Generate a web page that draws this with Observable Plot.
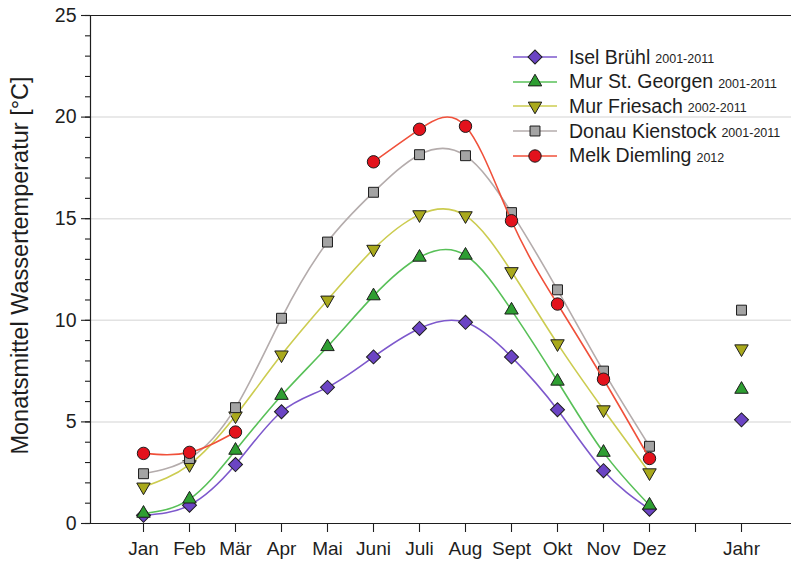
<!DOCTYPE html>
<html>
<head>
<meta charset="utf-8">
<script src="https://cdn.jsdelivr.net/npm/d3@7"></script>
<script src="https://cdn.jsdelivr.net/npm/@observablehq/plot@0.6"></script>
<style>
  body { margin: 0; background: #fff; font-family: "Liberation Sans", Arial, sans-serif; }
  #chart { position: relative; width: 791px; height: 567px; overflow: hidden; }
  #chart > svg { position: absolute; left: 0; top: 0; }
  #legend { position: absolute; left: 511px; top: 45px; }
  .row { display: flex; align-items: center; height: 24.6px; font-size: 19.5px; color: #1e1e1e; white-space: nowrap; }
  .row svg { margin-right: 10px; flex: none; }
  .row .period { font-size: 12.5px; margin-left: 5px; position: relative; top: 2px; }
</style>
</head>
<body>
<div id="chart"><div id="legend"></div></div>
<script>
// Monthly mean water temperatures (°C) at five gauging stations
const months = ["Jan", "Feb", "Mär", "Apr", "Mai", "Juni", "Juli", "Aug", "Sept", "Okt", "Nov", "Dez"];
const gapSlot = "";
const annualLabel = "Jahr";

const seriesNames = ["Isel Brühl", "Mur St. Georgen", "Mur Friesach", "Donau Kienstock", "Melk Diemling"];
const seriesPeriods = ["2001-2011", "2001-2011", "2002-2011", "2001-2011", "2012"];

const iselBruehl     = [0.4, 0.9, 2.9, 5.5, 6.7, 8.2, 9.6, 9.9, 8.2, 5.6, 2.6, 0.7];
const murStGeorgen   = [0.5, 1.2, 3.6, 6.3, 8.7, 11.2, 13.1, 13.2, 10.5, 7.0, 3.5, 0.9];
const murFriesach    = [1.8, 2.9, 5.3, 8.3, 11.0, 13.5, 15.2, 15.15, 12.4, 8.85, 5.6, 2.5];
const donauKienstock = [2.45, 3.2, 5.7, 10.1, 13.85, 16.3, 18.15, 18.1, 15.3, 11.5, 7.5, 3.8];
const melkDiemling   = [3.45, 3.5, 4.5, null, null, 17.8, 19.4, 19.55, 14.9, 10.8, 7.1, 3.2];

// Annual means ("Jahr"); no annual value for Melk Diemling
const annualMeans = [5.1, 6.6, 8.6, 10.5, null];

const yTickValues = [0, 5, 10, 15, 20, 25];
const yLabel = "Monatsmittel Wassertemperatur [°C]";

// Styling per series: line colour, marker fill, marker shape
const seriesStyle = [
  {line: "#7d58cc", fill: "#6b44c4", symbol: "square",   rotate: 45,  r: 5.6},
  {line: "#58c058", fill: "#2e9e32", symbol: "triangle", rotate: 0,   r: 5.0},
  {line: "#cccc50", fill: "#a9a91c", symbol: "triangle", rotate: 180, r: 5.0},
  {line: "#b4acac", fill: "#a4a4a4", symbol: "square",   rotate: 0,   r: 5.6},
  {line: "#f0503a", fill: "#e3121c", symbol: "circle",   rotate: 0,   r: 6.2}
];

const monthlySeries = [iselBruehl, murStGeorgen, murFriesach, donauKienstock, melkDiemling];

const monthlyRows = seriesNames.flatMap((name, s) =>
  months.map((m, i) => ({series: name, month: m, value: monthlySeries[s][i]}))
);
const annualRows = seriesNames.map((name, s) => ({series: name, month: annualLabel, value: annualMeans[s]}));

const fontFamily = '"Liberation Sans", Arial, sans-serif';

const seriesMarks = seriesNames.flatMap((name, s) => {
  const st = seriesStyle[s];
  const own = monthlyRows.filter(d => d.series === name);
  const pts = own.concat(annualRows.filter(d => d.series === name)).filter(d => d.value != null);
  return [
    Plot.line(own, {x: "month", y: "value", stroke: st.line, strokeWidth: 1.6, curve: "natural"}),
    Plot.dot(pts, {x: "month", y: "value", symbol: st.symbol, rotate: st.rotate, r: st.r,
                   fill: st.fill, stroke: "#1c1c1c", strokeWidth: 1})
  ];
});

const plot = Plot.plot({
  width: 791,
  height: 567,
  marginLeft: 90,
  marginRight: 0,
  marginTop: 15,
  marginBottom: 44,
  style: {fontFamily, color: "#1e1e1e", background: "transparent", overflow: "visible"},
  x: {type: "point", domain: [...months, gapSlot, annualLabel], padding: 1, range: [90, 794], label: null},
  y: {domain: [0, 25], range: [523, 15], label: null},
  marks: [
    Plot.gridY({ticks: yTickValues.filter(v => v > 0 && v < 25), stroke: "#e2e2e2", strokeOpacity: 1, strokeWidth: 1.5}),
    Plot.ruleY([0, 25], {stroke: "#1e1e1e", strokeWidth: 1.2}),
    Plot.frame({anchor: "left", stroke: "#1e1e1e", strokeWidth: 1.2}),
    Plot.axisY({ticks: d3.range(0, 26, 1), tickSize: 5, tickFormat: () => "", label: null, strokeWidth: 1.1}),
    Plot.axisY({ticks: yTickValues, tickSize: 9, tickPadding: 5, fontSize: 19.5, label: null, strokeWidth: 1.1}),
    Plot.axisX({tickSize: 9, tickPadding: 9, fontSize: 19, label: null, strokeWidth: 1.1}),
    Plot.text([yLabel], {text: d => d, frameAnchor: "left", textAnchor: "middle", dx: -70, dy: -4, rotate: -90, fontSize: 23.5}),
    ...seriesMarks
  ]
});

const chart = document.getElementById("chart");
chart.insertBefore(plot, chart.firstChild);

// Legend: line with marker, station name and period
const legend = d3.select("#legend");
seriesNames.forEach((name, s) => {
  const st = seriesStyle[s];
  const row = legend.append("div").attr("class", "row");
  const svg = row.append("svg").attr("width", 48).attr("height", 22);
  svg.append("line").attr("x1", 2).attr("x2", 46).attr("y1", 11).attr("y2", 11)
    .attr("stroke", st.line).attr("stroke-width", 1.6);
  const shape = {circle: d3.symbolCircle, square: d3.symbolSquare, triangle: d3.symbolTriangle}[st.symbol];
  svg.append("path")
    .attr("d", d3.symbol(shape, Math.PI * st.r * st.r)())
    .attr("transform", `translate(24,11) rotate(${st.rotate})`)
    .attr("fill", st.fill).attr("stroke", "#1c1c1c").attr("stroke-width", 1);
  row.append("span").text(name);
  row.append("span").attr("class", "period").text(seriesPeriods[s]);
});
</script>
</body>
</html>
